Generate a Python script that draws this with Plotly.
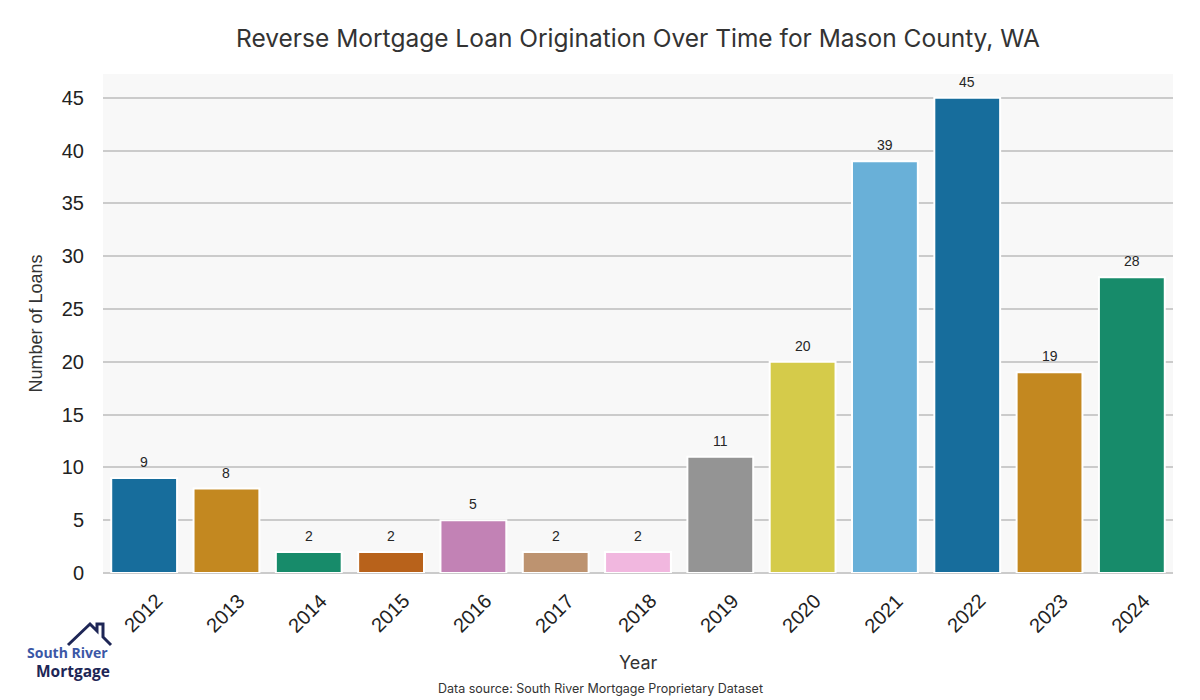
import plotly.graph_objects as go

years = ["2012", "2013", "2014", "2015", "2016", "2017", "2018",
         "2019", "2020", "2021", "2022", "2023", "2024"]
loans = [9, 8, 2, 2, 5, 2, 2, 11, 20, 39, 45, 19, 28]
bar_colors = ["#176D9C", "#C38820", "#178B6A", "#B8621B", "#C282B5", "#BD9370",
              "#F1B7DF", "#949494", "#D5CB4A", "#69B0D8", "#176D9C", "#C38820",
              "#178B6A"]
y_ticks = [0, 5, 10, 15, 20, 25, 30, 35, 40, 45]

W, H = 1200, 700
L, R, T, B = 103, 27, 74, 127
pw, ph = W - L - R, H - T - B


def px(x):
    return (x - L) / pw


def py(y):
    return (H - B - y) / ph


fig = go.Figure()
fig.add_trace(go.Bar(
    x=years, y=loans,
    marker=dict(color=bar_colors, line=dict(color="white", width=2)),
    hoverinfo="x+y",
))

annotations = []
# value labels above bars
for i, v in enumerate(loans):
    annotations.append(dict(
        x=i, y=v, xref="x", yref="y", text=str(v), showarrow=False,
        yanchor="bottom", yshift=6,
        font=dict(family="Liberation Sans, Arial", size=14, color="#262626"),
    ))
# rotated year tick labels (centre-rotated)
for i, yr in enumerate(years):
    annotations.append(dict(
        x=i, y=0, xref="x", yref="y", text=yr, showarrow=False,
        textangle=-45, xanchor="center", yanchor="middle", yshift=-40, xshift=-1,
        font=dict(family="Liberation Sans, Arial", size=20, color="#222222"),
    ))

# x-axis title
annotations.append(dict(
    x=0.5, y=py(662), xref="paper", yref="paper", yanchor="middle", xanchor="center",
    text="Year", showarrow=False,
    font=dict(family="Inter, Lato, sans-serif", size=18, color="#333333"),
))

# footer / source
annotations.append(dict(
    x=px(600), y=py(688), xref="paper", yref="paper", yanchor="middle", xanchor="center",
    text="Data source: South River Mortgage Proprietary Dataset", showarrow=False,
    font=dict(family="Inter, Lato, sans-serif", size=12.5, color="#333333"),
))

# logo text
annotations.append(dict(
    x=px(67), y=py(652), xref="paper", yref="paper", text="<b>South River</b>",
    showarrow=False, xanchor="center", yanchor="middle",
    font=dict(family="Open Sans, Lato, sans-serif", size=14, color="#3B57A6"),
))
annotations.append(dict(
    x=px(73), y=py(671), xref="paper", yref="paper", text="<b>Mortgage</b>",
    showarrow=False, xanchor="center", yanchor="middle",
    font=dict(family="Open Sans, Lato, sans-serif", size=15.5, color="#1E2656"),
))

# house roof + chimney
roof_pts = [(68, 645), (90, 624), (97, 631), (97, 624), (103, 624), (103, 637), (111, 645)]
path = "M " + " L ".join(f"{px(x)},{py(y)}" for x, y in roof_pts)
shapes = [dict(type="path", path=path, xref="paper", yref="paper",
               line=dict(color="#1E2656", width=3), layer="above")]

fig.update_layout(
    width=W, height=H,
    margin=dict(l=L, r=R, t=T, b=B, autoexpand=False),
    paper_bgcolor="white",
    plot_bgcolor="#F8F8F8",
    bargap=0.2,
    showlegend=False,
    title=dict(
        text="Reverse Mortgage Loan Origination Over Time for Mason County, WA",
        x=(L + pw / 2) / W, xanchor="center", y=1 - 38 / H, yanchor="middle",
        font=dict(family="Inter, Lato, sans-serif", size=24.5, color="#333333"),
    ),
    xaxis=dict(
        type="category",
        categoryorder="array", categoryarray=years,
        range=[-0.5, len(years) - 0.5],
        automargin=False,
        showticklabels=False,
        showgrid=False, showline=False, zeroline=False, ticks="",
    ),
    yaxis=dict(
        automargin=False,
        title=dict(text="Number of Loans", font=dict(family="Liberation Sans, Arial", size=18, color="#333333"),
                   standoff=14),
        range=[0, 47.25],
        tickvals=y_ticks,
        tickfont=dict(family="Liberation Sans, Arial", size=20, color="#222222"),
        showgrid=True, gridcolor="#CBCBCB", gridwidth=2,
        zeroline=True, zerolinecolor="#CBCBCB", zerolinewidth=2,
        showline=False, ticks="outside", ticklen=14, tickcolor="rgba(0,0,0,0)",
    ),
    annotations=annotations,
    shapes=shapes,
)

fig.write_html("out.html", config={"displayModeBar": False},
               post_script="document.body.style.margin='0';")
